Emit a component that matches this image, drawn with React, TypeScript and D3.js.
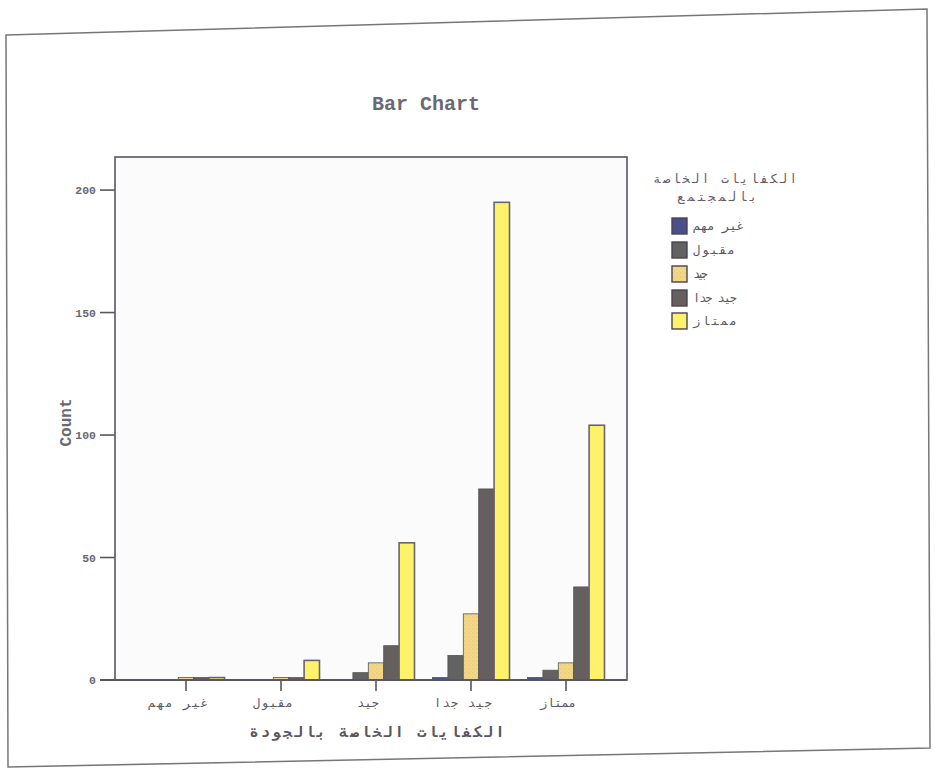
import React from 'react';
import * as d3 from 'd3';

// Categories on the x axis and legend series (same scale)
const categories = ['غير مهم', 'مقبول', 'جيد', 'جيد جدا', 'ممتاز'];
const seriesNames = ['غير مهم', 'مقبول', 'جيد', 'جيد جدا', 'ممتاز'];

// Counts per series, one value per x category
const valuesNotImportant = [0, 0, 0, 1, 1];
const valuesAcceptable = [0, 0, 3, 10, 4];
const valuesGood = [1, 1, 7, 27, 7];
const valuesVeryGood = [1, 1, 14, 78, 38];
const valuesExcellent = [1, 8, 56, 195, 104];

const yTicks = [0, 50, 100, 150, 200];

const chartTitle = 'Bar Chart';
const yTitle = 'Count';
const xTitle = 'الكفايات الخاصة بالجودة';
const legendTitle1 = 'الكفايات الخاصة';
const legendTitle2 = 'بالمجتمع';

const seriesValues = [valuesNotImportant, valuesAcceptable, valuesGood, valuesVeryGood, valuesExcellent];
const seriesFills = ['#4a4f8c', '#626262', 'url(#dotted)', 'url(#striped)', '#fdf26a'];

// label widths in the scanned original (the old fixed-width Arabic font)
const tickLabelWidths = [60, 40, 22, 58, 36];
const legendLabelWidths = [51, 42, 15, 44, 44];

const MONO = "'Liberation Mono', 'DejaVu Sans Mono', monospace";
const ARABIC = "'DejaVu Sans Mono', 'DejaVu Sans', sans-serif";

export default function App() {
  const W = 941;
  const H = 770;
  const plot = { left: 115, top: 157, right: 627, bottom: 680 };

  const x = d3.scalePoint<string>().domain(categories).range([186, 566]);
  const xs = d3.scaleBand<string>().domain(seriesNames).range([-38.5, 38.5]).padding(0);
  const y = d3.scaleLinear().domain([0, 213.5]).range([plot.bottom, plot.top]);

  const bars: React.ReactNode[] = [];
  seriesNames.forEach((s, si) => {
    seriesValues[si].forEach((v, ci) => {
      if (v <= 0) return;
      const cx = x(categories[ci])!;
      const bx = cx + xs(s)!;
      const by = y(v);
      bars.push(
        <rect
          key={`${si}-${ci}`}
          x={bx}
          y={by}
          width={xs.bandwidth()}
          height={plot.bottom - by}
          fill={seriesFills[si]}
          stroke={si === 4 ? '#6a6470' : '#555'}
          strokeWidth={si === 4 ? 1.6 : 0.8}
        />
      );
    });
  });

  const legendY = [226, 250, 274, 298, 321];

  return (
    <svg
      width={W}
      height={H}
      style={{ position: 'absolute', left: 0, top: 0, display: 'block', background: '#fff' }}
    >
      <defs>
        <pattern id="dotted" width="4" height="4" patternUnits="userSpaceOnUse">
          <rect width="4" height="4" fill="#f4d88a" />
          <circle cx="1" cy="1" r="0.6" fill="#d9b24e" />
          <circle cx="3" cy="3" r="0.6" fill="#e6c266" />
        </pattern>
        <pattern id="striped" width="5" height="5" patternUnits="userSpaceOnUse">
          <rect width="5" height="5" fill="#636060" />
          <rect x="2" width="1" height="5" fill="#6e5c5c" />
        </pattern>
      </defs>

      {/* scanned page frame */}
      <polygon
        points="6,35 927,9 930,748 8,767"
        fill="#fff"
        stroke="#777"
        strokeWidth={1.5}
      />

      {/* title */}
      <text
        x={426}
        y={110}
        textAnchor="middle"
        fontFamily={MONO}
        fontWeight="bold"
        fontSize={20}
        fill="#6a6872"
      >
        {chartTitle}
      </text>

      {/* plot background & frame */}
      <rect
        x={plot.left}
        y={plot.top}
        width={plot.right - plot.left}
        height={plot.bottom - plot.top}
        fill="#fbfbfb"
        stroke="#5a5560"
        strokeWidth={1.6}
      />

      {bars}

      {/* x axis line extending past left */}
      <line x1={100} x2={plot.right} y1={plot.bottom} y2={plot.bottom} stroke="#5a5560" strokeWidth={1.8} />

      {/* y ticks */}
      {yTicks.map((t) => (
        <g key={t}>
          <line x1={100} x2={plot.left} y1={y(t)} y2={y(t)} stroke="#5a5560" strokeWidth={1.6} />
          <text
            x={96}
            y={y(t) + 4}
            textAnchor="end"
            fontFamily={MONO}
            fontWeight="bold"
            fontSize={11.5}
            fill="#6a6872"
          >
            {t}
          </text>
        </g>
      ))}

      {/* y title */}
      <text
        transform={`translate(71, ${(plot.top + plot.bottom) / 2 + 4}) rotate(-90)`}
        textAnchor="middle"
        fontFamily={MONO}
        fontWeight="bold"
        fontSize={16}
        fill="#6a6872"
      >
        {yTitle}
      </text>

      {/* x ticks and labels */}
      {categories.map((c, i) => (
        <g key={c}>
          <line x1={x(c)!} x2={x(c)!} y1={plot.bottom} y2={plot.bottom + 11} stroke="#5a5560" strokeWidth={1.6} />
          <text
            x={x(c)! - 8}
            y={plot.bottom + 27}
            textAnchor="middle"
            fontFamily={ARABIC}
            fontSize={12}
            textLength={tickLabelWidths[i]}
            lengthAdjust="spacing"
            fill="#5a5560"
          >
            {c}
          </text>
        </g>
      ))}

      {/* x title */}
      <text
        x={377}
        y={737}
        textAnchor="middle"
        fontFamily={ARABIC}
        fontWeight="bold"
        fontSize={15}
        textLength={255}
        lengthAdjust="spacing"
        fill="#5a5560"
      >
        {xTitle}
      </text>

      {/* legend */}
      <text x={725} y={183} textAnchor="middle" fontFamily={ARABIC} fontSize={12.5} textLength={144} lengthAdjust="spacing" fill="#6a5a66">
        {legendTitle1}
      </text>
      <text x={717} y={201} textAnchor="middle" fontFamily={ARABIC} fontSize={12.5} textLength={80} lengthAdjust="spacing" fill="#6a5a66">
        {legendTitle2}
      </text>
      {seriesNames.map((s, i) => (
        <g key={s}>
          <rect
            x={672}
            y={legendY[i] - 8}
            width={15}
            height={16}
            fill={seriesFills[i]}
            stroke="#4a4550"
            strokeWidth={1.4}
          />
          <text
            x={693}
            y={legendY[i] + 4}
            textAnchor="start"
            fontFamily={ARABIC}
            fontSize={12}
            textLength={legendLabelWidths[i]}
            lengthAdjust="spacing"
            fill="#5a5560"
          >
            {s}
          </text>
        </g>
      ))}
    </svg>
  );
}
